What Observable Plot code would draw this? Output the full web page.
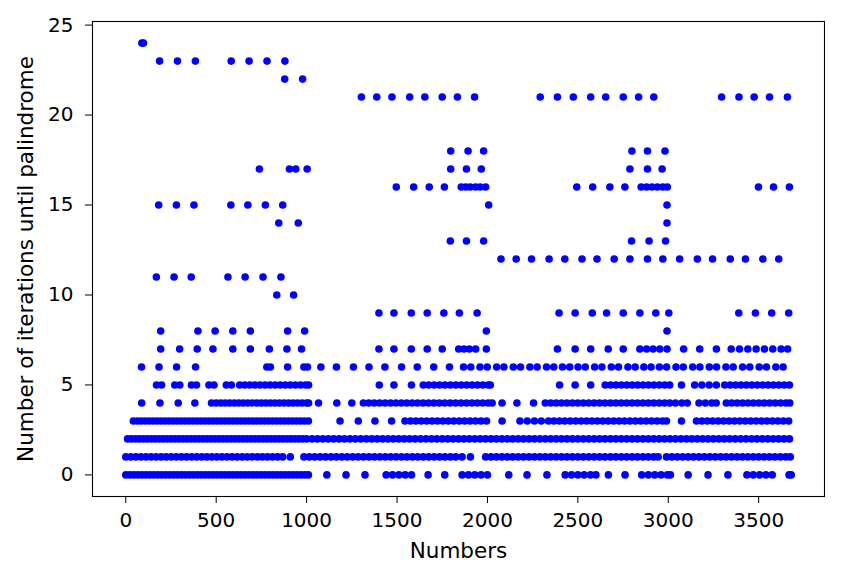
<!DOCTYPE html>
<html><head><meta charset="utf-8">
<script src="https://cdn.jsdelivr.net/npm/d3@7"></script>
<script src="https://cdn.jsdelivr.net/npm/@observablehq/plot@0.6"></script>
<style>body{margin:0;background:#fff}</style>
</head><body><div id="chart"></div>
<script>
// x positions (numbers) of the dots, one array per iteration count
const iter0 = [0,22,44,66,88,110,132,154,176,198,220,242,264,286,308,330,352,374,396,418,440,462,484,506,528,550,572,594,616,638,660,682,704,726,748,770,792,814,836,858,880,902,924,946,968,990,1010,1112,1218,1323,1440,1475,1510,1545,1580,1672,1764,1860,1895,1930,1965,2000,2118,2219,2329,2430,2465,2500,2535,2570,2600,2669,2761,2853,2890,2925,2960,2995,3012,3110,3220,3330,3435,3470,3505,3540,3575,3668,3680];
const iter1 = [0,28,56,84,112,140,168,196,224,252,280,308,336,364,392,420,448,476,504,532,560,588,616,644,672,700,728,756,784,812,840,868,910,985,1015,1045,1075,1105,1135,1165,1195,1225,1255,1285,1315,1345,1375,1405,1435,1465,1495,1525,1555,1585,1615,1645,1675,1705,1735,1765,1795,1825,1860,1906,1990,2020,2050,2080,2110,2140,2170,2200,2230,2260,2290,2320,2350,2380,2410,2440,2470,2500,2530,2560,2590,2620,2650,2680,2710,2740,2770,2800,2830,2860,2890,2920,2944,2990,3020,3050,3080,3110,3140,3170,3200,3230,3260,3290,3320,3350,3380,3410,3440,3470,3500,3530,3560,3590,3620,3650,3675];
const iter2 = [10,32,54,76,98,120,142,164,186,208,230,252,274,296,318,340,362,384,406,428,450,472,494,516,538,560,582,604,626,648,670,692,714,736,758,780,802,824,846,868,890,912,934,956,978,1000,1030,1060,1090,1120,1150,1180,1210,1240,1270,1300,1330,1360,1390,1420,1450,1480,1510,1540,1570,1600,1630,1660,1690,1720,1750,1780,1810,1840,1870,1900,1930,1960,1990,2020,2050,2080,2110,2140,2170,2200,2230,2260,2290,2320,2350,2380,2410,2440,2470,2500,2530,2560,2590,2620,2650,2680,2710,2740,2770,2800,2830,2860,2890,2920,2950,2980,3010,3040,3070,3100,3130,3160,3190,3220,3250,3280,3310,3340,3370,3400,3430,3460,3490,3520,3550,3580,3610,3640,3670];
const iter3 = [42,64,86,108,130,152,174,196,218,240,262,284,306,328,350,372,394,416,438,460,482,504,526,548,570,592,614,636,658,680,702,724,746,768,790,812,834,856,878,900,922,944,966,988,1010,1185,1286,1378,1470,1544,1574,1604,1634,1664,1694,1724,1754,1784,1814,1844,1874,1904,1934,1964,1995,2081,2180,2220,2260,2298,2338,2368,2398,2428,2458,2488,2518,2548,2578,2608,2638,2668,2698,2728,2758,2788,2818,2848,2878,2908,2938,2968,2990,3073,3156,3186,3216,3246,3276,3306,3336,3366,3396,3426,3456,3486,3516,3546,3576,3606,3636,3666];
const iter4 = [88,189,290,382,474,500,525,550,575,600,625,650,675,700,725,750,775,800,825,850,875,900,925,950,975,1000,1011,1066,1167,1250,1314,1344,1374,1404,1434,1464,1494,1524,1554,1584,1614,1644,1674,1704,1734,1764,1794,1824,1854,1884,1914,1944,1974,2004,2026,2081,2163,2255,2320,2350,2380,2410,2440,2470,2500,2530,2560,2590,2620,2650,2680,2710,2740,2770,2800,2830,2860,2890,2920,2950,2980,3008,3040,3075,3105,3170,3205,3240,3265,3321,3351,3381,3411,3441,3471,3501,3531,3561,3591,3621,3651,3672];
const iter5 = [170,198,271,299,363,391,460,488,556,584,630,658,686,714,742,770,798,826,854,882,910,938,966,994,1011,1402,1483,1580,1645,1675,1705,1735,1765,1795,1825,1855,1885,1915,1945,1975,2005,2016,2399,2485,2571,2651,2681,2711,2741,2771,2801,2831,2861,2891,2921,2951,2981,3008,3073,3146,3186,3226,3266,3312,3342,3372,3402,3432,3462,3492,3522,3552,3582,3612,3642,3670];
const iter6 = [87,184,281,386,780,800,895,985,1005,1079,1165,1259,1345,1433,1525,1612,1703,1790,1868,1908,1959,1999,2051,2091,2143,2183,2235,2275,2327,2367,2415,2455,2501,2541,2593,2633,2685,2725,2777,2817,2865,2905,2951,2991,3043,3083,3135,3175,3227,3267,3319,3359,3411,3451,3503,3543,3595,3635];
const iter7 = [193,298,395,482,592,689,794,891,972,1400,1483,1579,1667,1750,1841,1870,1900,1935,1994,2387,2485,2571,2668,2751,2843,2880,2916,2953,2993,3085,3174,3266,3348,3394,3440,3486,3532,3578,3624,3660];
const iter8 = [193,399,494,592,689,895,989,1994,2993];
const iter9 = [1400,1483,1579,1667,1759,1845,1943,2396,2485,2580,2659,2751,2843,2931,3003,3390,3482,3572,3666];
const iter10 = [835,928];
const iter11 = [169,267,362,565,660,759,858];
const iter12 = [2075,2159,2244,2341,2428,2523,2606,2701,2788,2885,2970,3063,3161,3245,3343,3427,3523,3611];
const iter13 = [1795,1884,1979,2797,2894,2985];
const iter14 = [846,954,2993];
const iter15 = [182,280,377,581,675,772,868,2007,2993];
const iter16 = [1496,1592,1678,1762,1855,1880,1905,1935,1960,1990,2494,2582,2677,2760,2850,2880,2910,2940,2970,2995,3499,3582,3670];
const iter17 = [739,905,940,1003,1797,1884,1966,2788,2885,2966];
const iter18 = [1797,1893,1979,2799,2885,2982];
const iter21 = [1303,1388,1472,1570,1654,1750,1834,1929,2292,2387,2475,2571,2654,2751,2836,2920,3295,3391,3475,3560,3659];
const iter22 = [879,978];
const iter23 = [187,286,385,583,682,781,880];
const iter24 = [89,98];

const xTicks = [0,500,1000,1500,2000,2500,3000,3500];
const yTicks = [0,5,10,15,20,25];
const xLabel = "Numbers";
const yLabel = "Number of iterations until palindrome";

const series = [[0,iter0],[1,iter1],[2,iter2],[3,iter3],[4,iter4],[5,iter5],[6,iter6],[7,iter7],[8,iter8],[9,iter9],[10,iter10],[11,iter11],[12,iter12],[13,iter13],[14,iter14],[15,iter15],[16,iter16],[17,iter17],[18,iter18],[21,iter21],[22,iter22],[23,iter23],[24,iter24]];
const data = series.flatMap(([it, xs]) => xs.map(n => ({n, it})));

const chart = Plot.plot({
  width: 851, height: 580,
  marginLeft: 92, marginRight: 27, marginTop: 21, marginBottom: 84,
  style: {fontFamily: "DejaVu Sans", fontSize: "20px", color: "#000", background: "#fff"},
  x: {domain: [-184, 3864]},
  y: {domain: [-1.2, 25.2]},
  marks: [
    Plot.dot(data, {x: "n", y: "it", r: 3.8, fill: "#0000ff"}),
    Plot.frame({stroke: "#000", strokeWidth: 1.1}),
    Plot.axisX({ticks: xTicks, tickFormat: d => String(d), tickSize: 7, tickPadding: 9, label: null, fontSize: 20}),
    Plot.axisY({ticks: yTicks, tickFormat: d => String(d), tickSize: 7, tickPadding: 12, label: null, fontSize: 20}),
    Plot.text([xLabel], {text: d => d, frameAnchor: "bottom", dy: 46, lineAnchor: "top", fontSize: 21.5, fill: "#000"}),
    Plot.text([yLabel], {text: d => d, frameAnchor: "left", dx: -66, rotate: -90, textAnchor: "middle", lineAnchor: "middle", fontSize: 21.5, fill: "#000"})
  ]
});
document.getElementById("chart").appendChild(chart);
</script>
</body></html>
